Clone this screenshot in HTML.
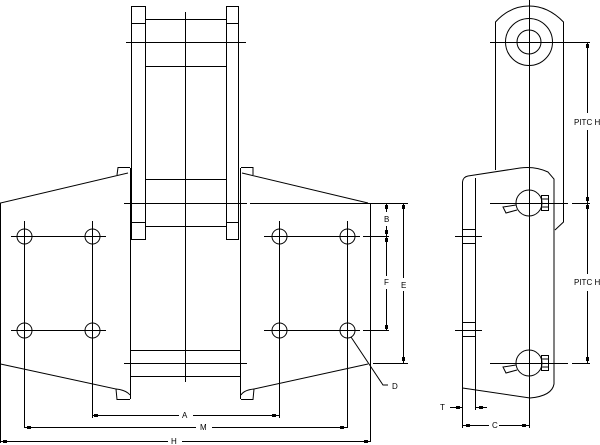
<!DOCTYPE html>
<html><head><style>body{margin:0;background:#fff}svg{display:block}text{font-family:"Liberation Sans",sans-serif;font-size:8px;fill:#000}</style></head><body>
<svg width="600" height="445" viewBox="0 0 600 445" xmlns="http://www.w3.org/2000/svg" fill="none" stroke="#000" stroke-width="1">
<!-- center links -->
<rect x="131.5" y="6.5" width="14" height="17"/>
<rect x="226.5" y="6.5" width="12" height="17"/>
<line x1="131.5" y1="23" x2="131.5" y2="240"/><line x1="145.5" y1="23" x2="145.5" y2="222"/>
<line x1="226.5" y1="23" x2="226.5" y2="222"/><line x1="238.5" y1="23" x2="238.5" y2="240"/>
<rect x="131.5" y="222.5" width="14" height="17"/><rect x="226.5" y="222.5" width="12" height="17"/>
<line x1="146" y1="19.5" x2="226" y2="19.5"/><line x1="126" y1="42.5" x2="246" y2="42.5"/>
<line x1="146" y1="66.5" x2="226" y2="66.5"/><line x1="146" y1="179.5" x2="226" y2="179.5"/>
<line x1="124" y1="203.5" x2="247" y2="203.5"/><line x1="250" y1="203.5" x2="408" y2="203.5"/>
<line x1="146" y1="226.5" x2="226" y2="226.5"/>
<line x1="185.5" y1="12" x2="185.5" y2="382"/>
<line x1="130.5" y1="168" x2="130.5" y2="399"/><line x1="240.5" y1="168" x2="240.5" y2="399"/>
<line x1="130" y1="350.5" x2="240" y2="350.5"/><line x1="124" y1="363.5" x2="247" y2="363.5"/><line x1="130" y1="376.5" x2="240" y2="376.5"/>
<!-- left plate -->
<polyline points="0.5,364 0.5,203 128,173"/>
<polyline points="117,175 118,167.5 130,167.5"/>
<polyline points="0.5,364 116,389 117,399.5 130,399.5"/>
<path d="M116,389 Q126,390 130,395"/>
<!-- right plate -->
<polyline points="242,173 368,203"/>
<polyline points="253,175 253,167.5 241,167.5"/>
<line x1="370.5" y1="203" x2="370.5" y2="442"/>
<polyline points="368,364 254,389 253,399.5 241,399.5"/>
<path d="M254,389 Q244,390 241,395"/>
<!-- holes -->
<g>
<circle cx="24.5" cy="236.5" r="7.5"/><circle cx="92.5" cy="236.5" r="7.5"/>
<circle cx="24.5" cy="330.5" r="7.5"/><circle cx="92.5" cy="330.5" r="7.5"/>
<circle cx="279.5" cy="236.5" r="7.5"/><circle cx="347.5" cy="236.5" r="7.5"/>
<circle cx="279.5" cy="330.5" r="7.5"/><circle cx="347.5" cy="330.5" r="7.5"/>
<line x1="11" y1="236.5" x2="106" y2="236.5"/><line x1="11" y1="330.5" x2="106" y2="330.5"/>
<line x1="264" y1="236.5" x2="360" y2="236.5"/><line x1="264" y1="330.5" x2="360" y2="330.5"/>
<line x1="363" y1="236.5" x2="389" y2="236.5"/><line x1="363" y1="330.5" x2="389" y2="330.5"/>
<line x1="373" y1="363.5" x2="408" y2="363.5"/>
<line x1="24.5" y1="221" x2="24.5" y2="428"/><line x1="92.5" y1="221" x2="92.5" y2="418"/>
<line x1="279.5" y1="221" x2="279.5" y2="418"/><line x1="347.5" y1="221" x2="347.5" y2="428"/>
<line x1="0.5" y1="364" x2="0.5" y2="443"/>
</g>
<!-- dims -->
<line x1="92" y1="415.5" x2="179" y2="415.5"/><line x1="193" y1="415.5" x2="279" y2="415.5"/>
<line x1="24" y1="427.5" x2="196" y2="427.5"/><line x1="212" y1="427.5" x2="347" y2="427.5"/>
<line x1="0" y1="441.5" x2="168" y2="441.5"/><line x1="182" y1="441.5" x2="370" y2="441.5"/>
<line x1="386.5" y1="203" x2="386.5" y2="212"/><line x1="386.5" y1="226" x2="386.5" y2="236"/>
<line x1="386.5" y1="236" x2="386.5" y2="276"/><line x1="386.5" y1="289" x2="386.5" y2="330"/>
<line x1="403.5" y1="203" x2="403.5" y2="278"/><line x1="403.5" y1="291" x2="403.5" y2="363"/>
<polyline points="351,337 383,385 388,385"/>
<g fill="#000" stroke="none">
<rect x="94" y="414" width="4" height="3"/><rect x="272" y="414" width="4" height="3"/>
<rect x="27" y="426" width="4" height="3"/><rect x="340" y="426" width="4" height="3"/>
<rect x="3" y="440" width="4" height="3"/><rect x="364" y="440" width="4" height="3"/>
<rect x="385" y="205" width="3" height="4"/><rect x="385" y="230" width="3" height="4"/>
<rect x="385" y="238" width="3" height="4"/><rect x="385" y="325" width="3" height="4"/>
<rect x="402" y="205" width="3" height="4"/><rect x="402" y="357" width="3" height="4"/>
<text x="182" y="418">A</text><text x="200" y="430">M</text><text x="171" y="444">H</text>
<text x="384" y="222">B</text><text x="384" y="285">F</text><text x="401" y="288">E</text><text x="392" y="389">D</text>
</g>
<!-- right view: top link -->
<path d="M495.5,170 L495.5,22 Q510,6 529,6 Q548,6 563.5,22 L563.5,222 L555,230"/>
<circle cx="529" cy="42" r="23.5"/><circle cx="529" cy="42" r="12"/>
<line x1="529.5" y1="0" x2="529.5" y2="410"/>
<line x1="490" y1="42.5" x2="572" y2="42.5"/><line x1="572" y1="42.5" x2="590" y2="42.5"/>
<!-- lower link -->
<path d="M462.5,390 L462.5,182 Q463,177 468,176 L520,168 Q535,166 548,172 L554,179 L554,384 Q552,396 530,398 L462.5,388"/>
<line x1="475.5" y1="178" x2="475.5" y2="410"/>
<rect x="462.5" y="229.5" width="13" height="14"/><rect x="462.5" y="322.5" width="13" height="14"/>
<line x1="455" y1="236.5" x2="482" y2="236.5"/><line x1="455" y1="330.5" x2="482" y2="330.5"/>
<circle cx="529" cy="203" r="13"/><circle cx="529" cy="363" r="13"/>
<rect x="541.5" y="195.5" width="7" height="15"/><rect x="541.5" y="355.5" width="7" height="15"/>
<line x1="541.5" y1="199" x2="548.5" y2="199"/><line x1="541.5" y1="207" x2="548.5" y2="207"/>
<line x1="541.5" y1="359" x2="548.5" y2="359"/><line x1="541.5" y1="367" x2="548.5" y2="367"/>
<path d="M516,205 L503,207 L506,213 L517,210"/><path d="M516,365 L503,367 L506,373 L517,370"/>
<line x1="490" y1="203.5" x2="568" y2="203.5"/><line x1="572" y1="203.5" x2="590" y2="203.5"/>
<line x1="490" y1="363.5" x2="568" y2="363.5"/><line x1="572" y1="363.5" x2="590" y2="363.5"/>
<line x1="587.5" y1="42" x2="587.5" y2="113"/><line x1="587.5" y1="130" x2="587.5" y2="274"/><line x1="587.5" y1="291" x2="587.5" y2="363"/>
<line x1="462.5" y1="390" x2="462.5" y2="428"/><line x1="529.5" y1="410" x2="529.5" y2="428"/>
<line x1="450" y1="407.5" x2="462" y2="407.5"/><line x1="476" y1="407.5" x2="487" y2="407.5"/>
<line x1="462" y1="425.5" x2="489" y2="425.5"/><line x1="499" y1="425.5" x2="529" y2="425.5"/>
<g fill="#000" stroke="none">
<rect x="586" y="44" width="3" height="4"/><rect x="586" y="197" width="3" height="4"/>
<rect x="586" y="205" width="3" height="4"/><rect x="586" y="357" width="3" height="4"/>
<rect x="456" y="406" width="4" height="3"/><rect x="479" y="406" width="4" height="3"/>
<rect x="466" y="424" width="4" height="3"/><rect x="522" y="424" width="4" height="3"/>
<text x="574" y="125">PITC H</text><text x="574" y="285">PITC H</text>
<text x="440" y="410">T</text><text x="492" y="428">C</text>
</g>
</svg>
</body></html>
